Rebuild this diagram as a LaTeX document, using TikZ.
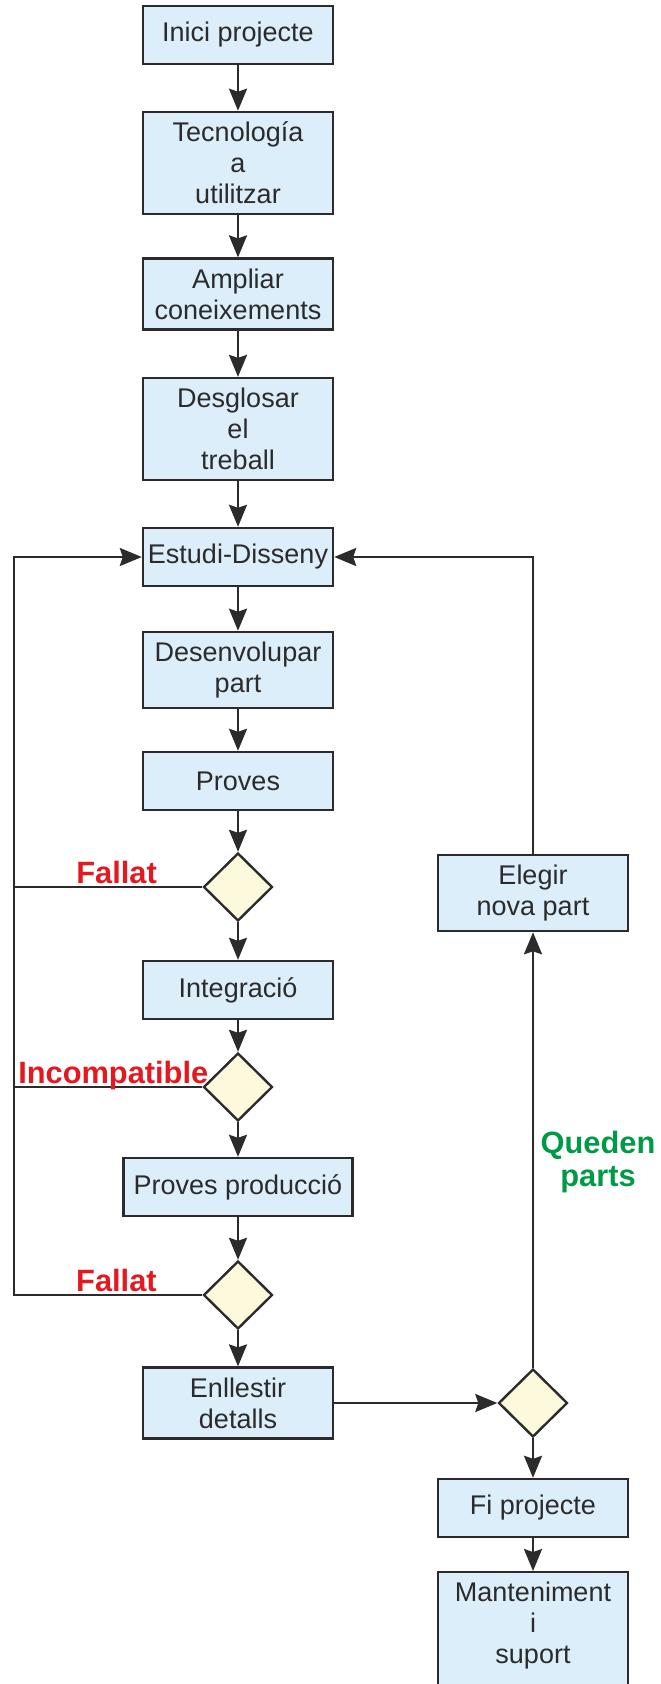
\documentclass[tikz,border=0pt]{standalone}
\usepackage{fontspec}
\setmainfont{Liberation Sans}
\usetikzlibrary{shapes.geometric,arrows.meta}
\definecolor{boxblue}{HTML}{DCEEFA}
\definecolor{decyellow}{HTML}{FDF9DC}
\definecolor{linegray}{HTML}{2B2B2B}
\definecolor{failred}{HTML}{E3191F}
\definecolor{okgreen}{HTML}{009A47}
\tikzstyle{box}=[rectangle,draw=linegray,fill=boxblue,line width=1.2pt,minimum width=95pt,minimum height=29pt,inner xsep=2pt,inner ysep=5pt,align=center,text=linegray,font=\fontsize{13.5pt}{15.5pt}\selectfont]
\tikzstyle{decision}=[diamond,draw=linegray,fill=decyellow,line width=1.2pt,minimum width=34.5pt,minimum height=34pt,inner sep=0pt]
\tikzstyle{faillabel}=[anchor=base,yshift=2pt,inner sep=0pt,text=failred,font=\fontsize{15.4pt}{17pt}\selectfont\bfseries]
\tikzstyle{oklabel}=[align=center,inner sep=0pt,text=okgreen,font=\fontsize{15.4pt}{16.5pt}\selectfont\bfseries]

\begin{document}
\begin{tikzpicture}[>={Stealth[length=11pt,width=9pt,inset=1.5pt]},line width=1.2pt,color=linegray]
	\useasboundingbox (0,0) rectangle (330pt,-842pt);
	\node(inici)[box] at (119pt,-17.5pt) {Inici projecte};
	\node(tecno)[box,below of=inici,node distance=64pt] {Tecnología\\a\\utilitzar};
	\node(ampliar)[box,below of=tecno,node distance=65.5pt] {Ampliar\\coneixements};
	\node(desglosar)[box,below of=ampliar,node distance=67.5pt] {Desglosar\\el\\treball};
	\node(estudi)[box,below of=desglosar,node distance=64pt] {Estudi-Disseny};
	\node(desenv)[box,below of=estudi,node distance=56.5pt] {Desenvolupar\\part};
	\node(proves)[box,below of=desenv,node distance=55.5pt] {Proves};
	\node(d1)[decision,below of=proves,node distance=53pt] {};
	\node(integ)[box,below of=d1,node distance=51.5pt] {Integració};
	\node(d2)[decision,below of=integ,node distance=48.5pt] {};
	\node(provprod)[box,below of=d2,node distance=50pt,minimum width=114.5pt] {Proves producció};
	\node(d3)[decision,below of=provprod,node distance=54pt] {};
	\node(enllestir)[box,below of=d3,node distance=54pt] {Enllestir\\detalls};
	\node(d4)[decision,right of=enllestir,node distance=147.5pt] {};
	\node(elegir)[box,above of=d4,node distance=255pt] {Elegir\\nova part};
	\node(fi)[box,below of=d4,node distance=52.5pt] {Fi projecte};
	\node(manten)[box,below of=fi,node distance=64.5pt,text depth=14pt] {Manteniment\\i\\suport};
	\node(queden)[oklabel] at (299pt,-581pt) {Queden\\parts};
	\coordinate(lft) at (7pt,0pt);

	\path[->]	(inici) edge (tecno)
				(tecno) edge (ampliar)
				(ampliar) edge (desglosar)
				(desglosar) edge (estudi)
				(estudi) edge (desenv)
				(desenv) edge (proves)
				(proves) edge (d1)
				(d1) edge (integ)
				(integ) edge (d2)
				(d2) edge (provprod)
				(provprod) edge (d3)
				(d3) edge (enllestir)
				(enllestir) edge (d4)
				(d4) edge (elegir)
				(d4) edge (fi)
				(fi) edge (manten);

	% tornades a Estudi-Disseny
	\draw[->] (d3.west) -| node[faillabel,pos=0.228]{Fallat} (lft |- estudi.west) -- (estudi.west);
	\draw (d1.west) -- node[faillabel,pos=0.455]{Fallat} (lft |- d1.west);
	\draw (d2.west) -- node[faillabel,pos=0.473]{Incompatible} (lft |- d2.west);
	\draw[->] (elegir.north) |- (estudi.east);
\end{tikzpicture}
\end{document}
